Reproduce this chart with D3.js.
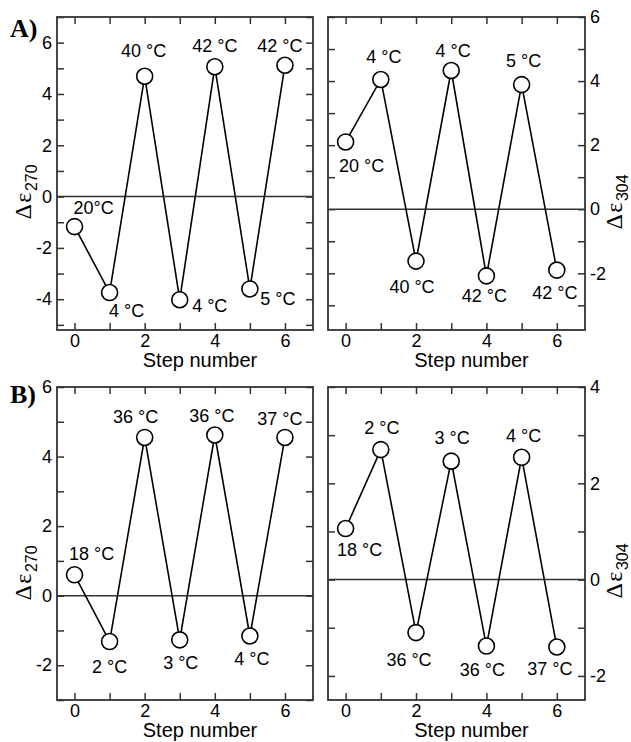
<!DOCTYPE html>
<html>
<head>
<meta charset="utf-8">
<script src="https://cdn.jsdelivr.net/npm/d3@7"></script>
<style>
  body { margin: 0; background: #fff; }
  svg { display: block; font-family: "Liberation Sans", Arial, sans-serif; }
  .axis text { font-size: 18px; fill: #000; font-family: "Liberation Sans", Arial, sans-serif; }
  .axis line { stroke: #333; stroke-width: 1.5; }
  .axis path { display: none; }
</style>
</head>
<body>
<svg width="631" height="742"></svg>
<script>
// step numbers
var steps = [0, 1, 2, 3, 4, 5, 6];

// A) delta eps 270 / 304
var a270 = [-1.17, -3.74, 4.69, -4.02, 5.06, -3.6, 5.12];
var a304 = [2.1, 4.05, -1.62, 4.33, -2.08, 3.89, -1.9];
var a270_lab = ["20°C", "4 °C", "40 °C", "4 °C", "42 °C", "5 °C", "42 °C"];
var a304_lab = ["20 °C", "4 °C", "40 °C", "4 °C", "42 °C", "5 °C", "42 °C"];

// B) delta eps 270 / 304
var b270 = [0.6, -1.32, 4.55, -1.27, 4.62, -1.16, 4.55];
var b304 = [1.06, 2.7, -1.1, 2.46, -1.38, 2.54, -1.4];
var b270_lab = ["18 °C", "2 °C", "36 °C", "3 °C", "36 °C", "4 °C", "37 °C"];
var b304_lab = ["18 °C", "2 °C", "36 °C", "3 °C", "36 °C", "4 °C", "37 °C"];

// label placement (offset from the point, px) - hand placed like in the figure
var a270_off = [[19, -13], [17, 24], [-1, -19], [30, 12], [0, -15], [28, 16], [-5, -13]];
var a304_off = [[16, 30], [3, -16], [-4, 32], [2, -14], [-2, 26], [2, -18], [-2, 29]];
var b270_off = [[17, -15], [0, 31], [-9, -14], [1, 29], [-3, -13], [2, 29], [-5, -12]];
var b304_off = [[14, 27], [1, -16], [-7, 33], [1, -17], [-4, 30], [2, -15], [-7, 28]];

var svg = d3.select("svg");

function pannello(o) {
  var g = svg.append("g");
  var x = d3.scaleLinear().domain([-0.5, 6.8]).range([o.x0, o.x1]);
  var y = d3.scaleLinear().domain(o.ydom).range([o.y1, o.y0]);
  var tl = 7;

  var yt = d3.range(Math.ceil(o.ydom[0]), Math.floor(o.ydom[1]) + 1);
  var fmtY = function(d) { return d % 2 === 0 ? String(d) : ""; };
  var fmtX = function(d) { return d % 2 === 0 ? String(d) : ""; };

  // zero line
  g.append("line")
    .attr("x1", o.x0).attr("x2", o.x1)
    .attr("y1", y(0)).attr("y2", y(0))
    .attr("stroke", "#333").attr("stroke-width", 1.5);

  // ticks
  g.append("g").attr("class", "axis")
    .attr("transform", "translate(0," + o.y1 + ")")
    .call(d3.axisBottom(x).tickValues(steps).tickSize(-tl).tickPadding(4).tickFormat(fmtX));
  g.append("g").attr("class", "axis")
    .attr("transform", "translate(0," + o.y0 + ")")
    .call(d3.axisTop(x).tickValues(steps).tickSize(-tl).tickFormat(""));
  if (o.side === "left") {
    g.append("g").attr("class", "axis")
      .attr("transform", "translate(" + o.x0 + ",0)")
      .call(d3.axisLeft(y).tickValues(yt).tickSize(-tl).tickPadding(5).tickFormat(fmtY));
    g.append("g").attr("class", "axis")
      .attr("transform", "translate(" + o.x1 + ",0)")
      .call(d3.axisRight(y).tickValues(yt).tickSize(-tl).tickFormat(""));
  } else {
    g.append("g").attr("class", "axis")
      .attr("transform", "translate(" + o.x1 + ",0)")
      .call(d3.axisRight(y).tickValues(yt).tickSize(-tl).tickPadding(5).tickFormat(fmtY));
    g.append("g").attr("class", "axis")
      .attr("transform", "translate(" + o.x0 + ",0)")
      .call(d3.axisLeft(y).tickValues(yt).tickSize(-tl).tickFormat(""));
  }

  // frame
  g.append("rect")
    .attr("x", o.x0).attr("y", o.y0)
    .attr("width", o.x1 - o.x0).attr("height", o.y1 - o.y0)
    .attr("fill", "none").attr("stroke", "#333").attr("stroke-width", 1.8);

  // line + circles
  var linea = d3.line().x(function(d, i) { return x(steps[i]); }).y(function(d) { return y(d); });
  g.append("path").datum(o.vals)
    .attr("d", linea).attr("fill", "none")
    .attr("stroke", "#000").attr("stroke-width", 1.6);
  g.selectAll("circle.p").data(o.vals).enter().append("circle")
    .attr("cx", function(d, i) { return x(steps[i]); })
    .attr("cy", function(d) { return y(d); })
    .attr("r", 8)
    .attr("fill", "#fff").attr("stroke", "#000").attr("stroke-width", 1.6);

  g.selectAll("text.lab").data(o.vals).enter().append("text")
    .attr("x", function(d, i) { return x(steps[i]) + o.off[i][0]; })
    .attr("y", function(d, i) { return y(d) + o.off[i][1]; })
    .attr("text-anchor", "middle")
    .attr("font-size", "18px")
    .text(function(d, i) { return o.lab[i]; });

  // x title
  g.append("text")
    .attr("x", (o.x0 + o.x1) / 2 + 15).attr("y", o.y1 + 37)
    .attr("text-anchor", "middle").attr("font-size", "20px")
    .text("Step number");

  // y title (rotated)
  var t = g.append("text")
    .attr("transform", "translate(" + o.tx + "," + o.ty + ") rotate(-90)")
    .attr("text-anchor", "middle");
  t.append("tspan").attr("font-family", "'Liberation Serif', 'Times New Roman', serif")
    .attr("font-size", "24px").attr("letter-spacing", "1.5px").text("Δε");
  t.append("tspan").attr("font-size", "16px").attr("dy", 6).text(o.sub);
}

pannello({ x0: 57, x1: 313, y0: 17, y1: 330, ydom: [-5.2, 7], side: "left",
  vals: a270, lab: a270_lab, off: a270_off, sub: "270", tx: 31, ty: 192 });
pannello({ x0: 328, x1: 585, y0: 17, y1: 330, ydom: [-3.77, 6], side: "right",
  vals: a304, lab: a304_lab, off: a304_off, sub: "304", tx: 622, ty: 202 });
pannello({ x0: 57, x1: 313, y0: 387, y1: 700, ydom: [-3, 6], side: "left",
  vals: b270, lab: b270_lab, off: b270_off, sub: "270", tx: 31, ty: 573 });
pannello({ x0: 328, x1: 585, y0: 387, y1: 700, ydom: [-2.5, 4], side: "right",
  vals: b304, lab: b304_lab, off: b304_off, sub: "304", tx: 622, ty: 571 });

// panel letters
svg.append("text").attr("x", 10).attr("y", 37)
  .attr("font-family", "'Liberation Serif', 'Times New Roman', serif")
  .attr("font-weight", "bold").attr("font-size", "26px").text("A)");
svg.append("text").attr("x", 10).attr("y", 403)
  .attr("font-family", "'Liberation Serif', 'Times New Roman', serif")
  .attr("font-weight", "bold").attr("font-size", "26px").text("B)");
</script>
</body>
</html>
